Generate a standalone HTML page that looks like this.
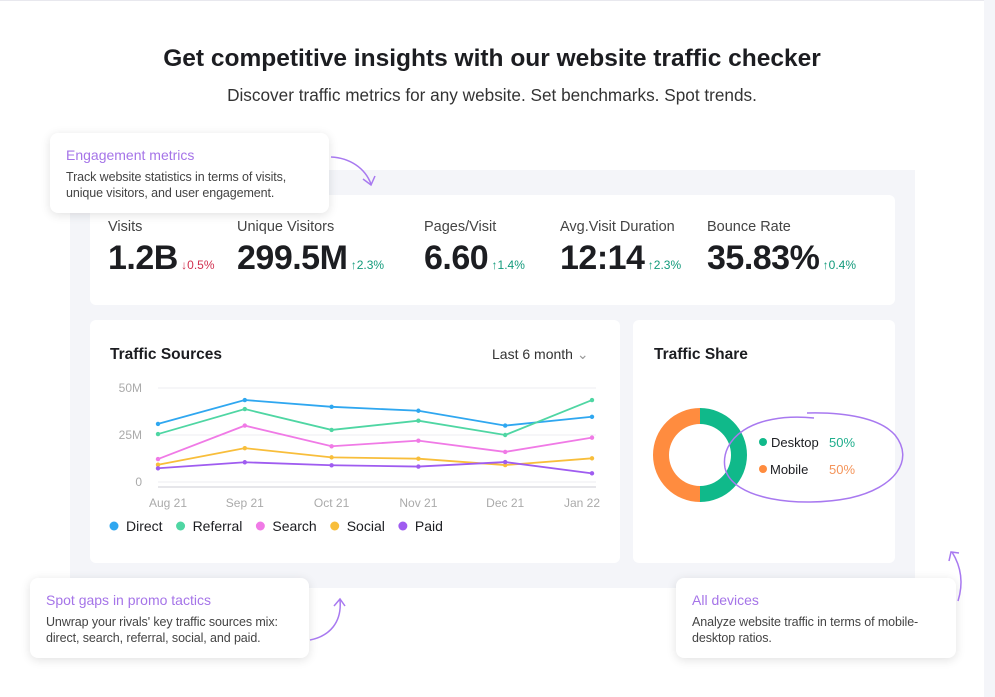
<!DOCTYPE html>
<html><head><meta charset="utf-8">
<style>
*{box-sizing:border-box;margin:0;padding:0}
body{width:995px;height:697px;background:#fff;font-family:"Liberation Sans",sans-serif;position:relative;overflow:hidden;color:#1c1d21}
.abs{position:absolute}
.panel{left:70px;top:170px;width:845px;height:418px;background:#f4f5f9}
.card{background:#fff;border-radius:6px}
.callout{background:#fff;border-radius:8px;box-shadow:0 2px 10px rgba(0,0,0,.12);padding:14px 16px;white-space:nowrap}
.callout h4{color:#a574e8;font-weight:normal;font-size:14px;margin-bottom:6px}
.callout p{color:#444;font-size:12.5px;line-height:16px;letter-spacing:-0.1px}
.lbl{font-size:14.5px;color:#444}
.big{font-size:34px;font-weight:bold;letter-spacing:-0.5px}
.chg{font-size:12px}
.up{color:#129a7b}.dn{color:#d1304f}
</style></head><body>
<div class="abs" style="left:984px;top:0;width:11px;height:697px;background:#f4f5f9"></div>
<div class="abs" style="left:0;top:0;width:984px;height:1px;background:#e8e8ee"></div>
<h1 class="abs" style="left:0;width:984px;top:45px;text-align:center;font-size:24.5px;font-weight:bold">Get competitive insights with our website traffic checker</h1>
<p class="abs" style="left:0;width:984px;top:85px;text-align:center;font-size:17.2px;color:#333">Discover traffic metrics for any website. Set benchmarks. Spot trends.</p>

<div class="abs panel"></div>
<div class="abs card" style="left:90px;top:195px;width:805px;height:110px"></div>

<div class="abs" style="left:108px;top:219px">
<div class="lbl">Visits</div><div style="margin-top:4px"><span class="big">1.2B</span><span class="chg dn"> ↓0.5%</span></div></div>
<div class="abs" style="left:237px;top:219px">
<div class="lbl">Unique Visitors</div><div style="margin-top:4px"><span class="big">299.5M</span><span class="chg up"> ↑2.3%</span></div></div>
<div class="abs" style="left:424px;top:219px">
<div class="lbl">Pages/Visit</div><div style="margin-top:4px"><span class="big">6.60</span><span class="chg up"> ↑1.4%</span></div></div>
<div class="abs" style="left:560px;top:219px">
<div class="lbl">Avg.Visit Duration</div><div style="margin-top:4px"><span class="big">12:14</span><span class="chg up"> ↑2.3%</span></div></div>
<div class="abs" style="left:707px;top:219px">
<div class="lbl">Bounce Rate</div><div style="margin-top:4px"><span class="big">35.83%</span><span class="chg up"> ↑0.4%</span></div></div>

<div class="abs card" style="left:90px;top:320px;width:530px;height:243px"></div>
<div class="abs" style="left:110px;top:346px;font-size:15.5px;font-weight:bold">Traffic Sources</div>
<div class="abs" style="left:492px;top:346px;font-size:14px;color:#333">Last 6 month <span style="color:#999">⌄</span></div>
<svg class="abs" id="chart" style="left:90px;top:370px" width="530" height="180"></svg>

<div class="abs card" style="left:633px;top:320px;width:262px;height:243px"></div>
<div class="abs" style="left:654px;top:346px;font-size:15.5px;font-weight:bold">Traffic Share</div>
<svg class="abs" style="left:630px;top:390px" width="300" height="140">
<path d="M70 18 A47 47 0 0 0 70 112 L70 96 A31 31 0 0 1 70 34 Z" fill="#ff8c3f"/>
<path d="M70 18 A47 47 0 0 1 70 112 L70 96 A31 31 0 0 0 70 34 Z" fill="#10b98a"/>
<circle cx="133" cy="52" r="4" fill="#10b98a"/><text x="141" y="57" font-size="13" fill="#1c1d21" font-family="Liberation Sans">Desktop</text><text x="199" y="57" font-size="13" fill="#1fae8c" font-family="Liberation Sans">50%</text>
<circle cx="133" cy="79" r="4" fill="#ff8c3f"/><text x="140" y="84" font-size="13" fill="#1c1d21" font-family="Liberation Sans">Mobile</text><text x="199" y="84" font-size="13" fill="#f4945a" font-family="Liberation Sans">50%</text>
<path d="M184 28 C120 22 90 50 95 78 C102 110 170 118 220 108 C265 98 285 70 265 45 C250 28 215 22 177 23" fill="none" stroke="#a879f0" stroke-width="1.5"/>
</svg>

<div class="abs callout" style="left:50px;top:133px;width:279px;height:80px"><h4>Engagement metrics</h4><p>Track website statistics in terms of visits,<br>unique visitors, and user engagement.</p></div>
<div class="abs callout" style="left:30px;top:578px;width:279px;height:80px"><h4>Spot gaps in promo tactics</h4><p>Unwrap your rivals' key traffic sources mix:<br>direct, search, referral, social, and paid.</p></div>
<div class="abs callout" style="left:676px;top:578px;width:280px;height:80px"><h4>All devices</h4><p>Analyze website traffic in terms of mobile-<br>desktop ratios.</p></div>

<svg class="abs" style="left:0;top:0" width="995" height="697">
<g fill="none" stroke="#a879f0" stroke-width="1.5">
<path d="M331 157 C350 158 365 168 371 184"/><path d="M363 179 L371 185 L375 176"/>
<path d="M310 640 C330 636 342 622 340 600"/><path d="M334 606 L340 599 L345 606"/>
<path d="M958 601 C963 585 962 568 952 552"/><path d="M949 561 L951 552 L959 553"/>
</g></svg>

<script>
const months=["Aug 21","Sep 21","Oct 21","Nov 21","Dec 21","Jan 22"];
const yTicks=[0,25,50];
const yTickLabels=["0","25M","50M"];
const direct=[30.9,43.6,40,37.9,30,34.7];
const referral=[25.5,38.8,27.7,32.6,25,43.6];
const search=[12.2,30,19,22,16,23.6];
const social=[9.2,18,13.1,12.4,9,12.6];
const paid=[7.3,10.5,8.9,8.2,10.6,4.6];
const seriesNames=["Direct","Referral","Search","Social","Paid"];
const colors=["#2fa7f0","#4fd6a3","#f07ae6","#f8be3b","#9f5cf0"];
const all=[direct,referral,search,social,paid];
const svg=document.getElementById('chart');const NS="http://www.w3.org/2000/svg";
const x0=68,x1=502,yTop=18,yBot=112,yMax=50;
const xs=i=>x0+(x1-x0)*i/(months.length-1);
const ys=v=>yBot-(yBot-yTop)*v/yMax;
function mk(t,a){const e=document.createElementNS(NS,t);for(const k in a)e.setAttribute(k,a[k]);svg.appendChild(e);return e;}
yTicks.forEach((t,i)=>{
 const g=mk('line',{x1:x0,x2:x1+4,y1:ys(t),y2:ys(t),stroke:'#ececf0','stroke-width':1});
 
 
 const l=mk('text',{x:52,y:ys(t)+4,'text-anchor':'end','font-size':12,fill:'#aaa','font-family':'Liberation Sans'});
 l.textContent=yTickLabels[i];
 
 
});
const ax=mk('line',{x1:x0,x2:x1+4,y1:117,y2:117,stroke:'#e6e6ea','stroke-width':2});


months.forEach((m,i)=>{
 const t=mk('text',{x:xs(i)+(i==months.length-1?-10:(i==0?10:0)),y:137,'text-anchor':'middle','font-size':12,fill:'#aaa','font-family':'Liberation Sans'});
 t.textContent=m;
 
 
});
all.forEach((s,k)=>{
 const p=mk('polyline',{points:s.map((v,i)=>xs(i)+','+ys(v)).join(' '),fill:'none',stroke:colors[k],'stroke-width':1.8});
 
 
 s.forEach((v,i)=>{const c=mk('circle',{cx:xs(i),cy:ys(v),r:2.2,fill:colors[k]});
  
  });
});
let lx=20;
seriesNames.forEach((n,k)=>{
 const c=mk('circle',{cx:lx+4,cy:156,r:4.5,fill:colors[k]});
 
 
 const t=mk('text',{x:lx+16,y:161,'font-size':14,fill:'#1c1d21','font-family':'Liberation Sans'});
 t.textContent=n;
 
 
 lx+=16+t.getComputedTextLength()+14;
});
</script>
</body></html>
